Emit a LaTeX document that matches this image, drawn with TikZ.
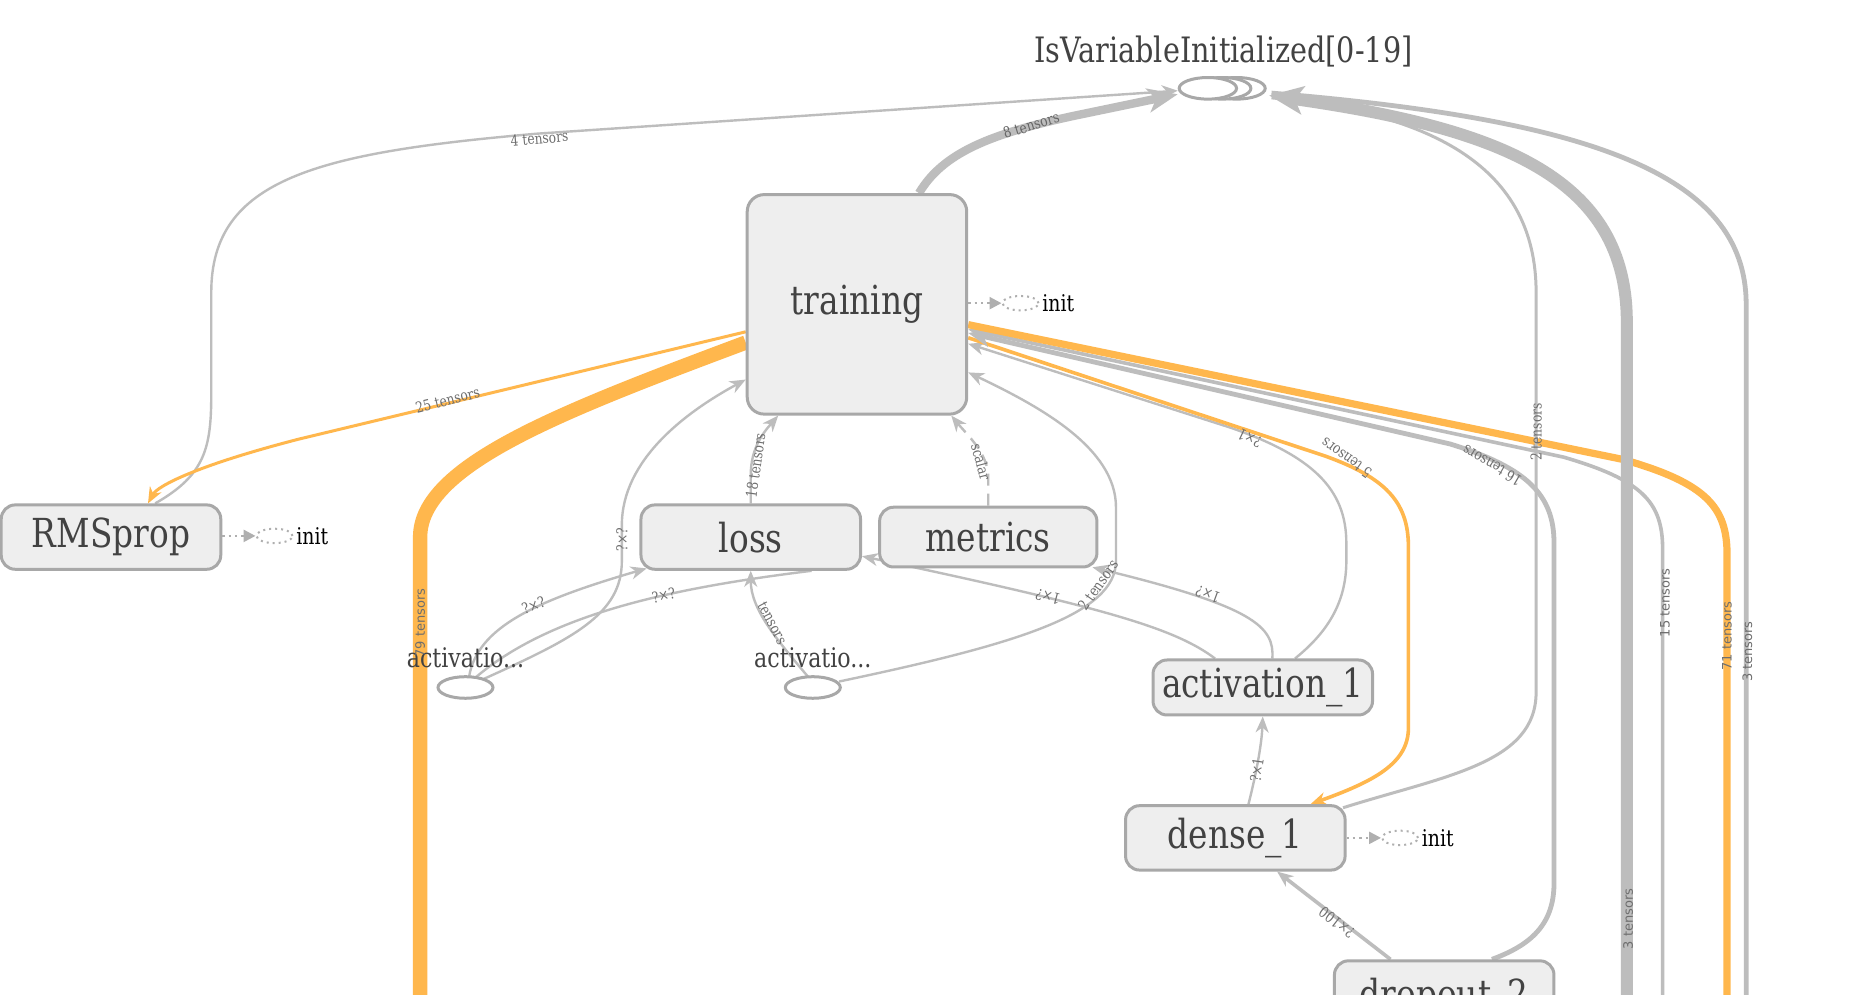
\documentclass[tikz,border=0pt]{standalone}
\usepackage{fontspec}
\setmainfont{DejaVu Serif}[FakeStretch=0.82]
\newfontfamily\labsans{DejaVu Sans}
\usetikzlibrary{arrows.meta,shapes.geometric,calc}
\definecolor{edgegray}{HTML}{BDBDBD}
\definecolor{edgeor}{HTML}{FFB74D}
\definecolor{boxfill}{HTML}{EEEEEE}
\definecolor{boxline}{HTML}{A8A8A8}
\definecolor{boxtext}{HTML}{424242}
\definecolor{labtext}{HTML}{6E6E6E}
\definecolor{initline}{HTML}{AFAFAF}
\pgfdeclarelayer{bg}\pgfsetlayers{bg,main}
\begin{document}
\begin{tikzpicture}[x=0.597pt,y=-0.597pt,
  box/.style={draw=boxline, fill=boxfill, line width=1.5pt, rounded corners=7pt, text=boxtext,
    font=\fontsize{20}{24}\selectfont, minimum width=109.8pt, minimum height=32.2pt, inner sep=0pt},
  ivell/.style={ellipse, draw=boxline, fill=white, line width=1.5pt, minimum width=28.7pt, minimum height=10.8pt, inner sep=0pt},
  initell/.style={ellipse, draw=initline, dotted, line width=1pt, minimum width=18pt, minimum height=7.2pt, inner sep=0pt},
  initlab/.style={anchor=west, font=\fontsize{11.5}{13}\selectfont, text=black, inner sep=0pt},
  initarr/.style={draw=initline, dotted, line width=1.2pt, -{Triangle[length=6pt,width=6pt]}},
  ge/.style={draw=edgegray, line width=1.2pt},
  oe/.style={draw=edgeor, line width=1.5pt},
  arrhead/.style={-{Stealth[length=8pt,width=6.5pt,inset=2.5pt]}},
  rarrhead/.style={{Stealth[length=8pt,width=6.5pt,inset=2.5pt]}-},
  bigarr/.style={-{Stealth[length=15pt,width=12pt,inset=4pt]}},
  rmidarr/.style={{Stealth[length=11pt,width=9pt,inset=3pt]}-},
  hugearr/.style={{Stealth[length=17pt,width=14pt,inset=4pt]}-},
  lab/.style={font=\fontsize{7.5}{8}\selectfont, text=labtext, inner sep=0pt},
  slab/.style={font=\labsans\fontsize{6.5}{7}\selectfont, text=labtext, inner sep=0pt},
  title/.style={text=boxtext, inner sep=0pt}
]
\useasboundingbox (0,0) rectangle (1550,833);
\clip (0,0) rectangle (1550,833);

% ---------------- nodes
\node[box, minimum height=109.8pt, rounded corners=8.5pt] (training) at (718,255) {training};
\node[box] (rms) at (93,450) {RMSprop};
\node[box] (loss) at (629,450) {loss};
\node[box, minimum width=108.7pt, minimum height=29.9pt] (metrics) at (828,450) {metrics};
\node[box, minimum height=27.5pt] (act1) at (1058,576) {activation\_1};
\node[box] (dense) at (1035,702) {dense\_1};
\node[box, minimum height=37pt] (drop) at (1210,836) {dropout\_2};

\node[ivell] (iv3) at (1036,74) {};
\node[ivell] (iv2) at (1024,74) {};
\node[ivell] (iv1) at (1012,74) {};
\node[title, font=\fontsize{17.5}{20}\selectfont] (ivlab) at (1025,43) {IsVariableInitialized[0-19]};

\node[ivell, minimum width=27.5pt] (a1) at (390,576) {};
\node[ivell, minimum width=27.5pt] (a2) at (681,576) {};
\node[title, font=\fontsize{13.5}{16}\selectfont] (a1lab) at (390,551) {activatio...};
\node[title, font=\fontsize{13.5}{16}\selectfont] (a2lab) at (681,551) {activatio...};

\node[initell] (tinit) at (855,254) {};
\node[initlab] (tinitlab) at (873,254) {init};
\node[initell] (rinit) at (230,449) {};
\node[initlab] (rinitlab) at (248,449) {init};
\node[initell] (dinit) at (1173,702) {};
\node[initlab] (dinitlab) at (1191,702) {init};

\draw[initarr] (training.east |- tinit) -- (tinit.west);
\draw[initarr] (rms.east |- rinit) -- (rinit.west);
\draw[initarr] (dense.east |- dinit) -- (dinit.west);

% ---------------- edges
\begin{pgfonlayer}{bg}
\fill[white] (0,0) rectangle (1550,833);
% 4 tensors
\draw[ge, arrhead] ($(rms.north)+(37,0)$) .. controls (172,398) and (177,375) .. (177,330) -- (177,245)
   .. controls (177,150) and (265,128) .. (450,112) -- ($(iv1.west)+(0,2)$);
% 8 tensors
\draw[ge, line width=4.2pt, bigarr] ($(training.north)+(52,0)$) .. controls (790,128) and (830,112) .. (900,97) -- ($(iv1.west)+(0,5)$);
% 25 tensors
\draw[oe, arrhead] ($(training.west)+(0,23)$) -- (250,368) .. controls (165,390) and (132,407) .. ($(rms.north)+(31,0)$);
% 79 tensors
\draw[oe, line width=7.2pt] ($(training.west)+(0,32)$) .. controls (470,345) and (352,390) .. (352,450) -- (352,860);
% 18 tensors
\draw[ge, arrhead] (loss.north) -- (629,398) .. controls (629,375) and (640,362) .. ($(training.south)+(-66,0)$);
% scalar
\draw[ge, dash pattern=on 6pt off 4pt, arrhead] (metrics.north) -- (828,400) .. controls (828,380) and (810,364) .. ($(training.south)+(79,0)$);
% activatio (left) -> training
\draw[ge, arrhead] ($(a1)+(15,-7)$) .. controls (480,535) and (521,515) .. (521,470) -- (521,440)
   .. controls (521,385) and (575,345) .. ($(training.west)+(0,63)$);
% activatio (left) -> loss
\draw[ge, arrhead] ($(a1)+(3,-9)$) .. controls (400,525) and (450,503) .. ($(loss.south west)+(6,-2)$);
\draw[ge] ($(a1)+(8,-8)$) .. controls (460,515) and (560,493) .. ($(loss.south)+(51,0)$);
% activatio (middle) -> loss
\draw[ge, arrhead] ($(a2)+(-4,-9)$) .. controls (650,535) and (629,510) .. (loss.south);
% activatio (middle) -> training
\draw[ge, arrhead] ($(a2)+(22,-5)$) .. controls (850,540) and (935,515) .. (935,470) -- (935,425)
   .. controls (935,375) and (870,340) .. ($(training.east)+(0,57)$);
% activation_1 -> loss, metrics, training
\draw[ge, arrhead] ($(act1.north)+(-40,0)$) .. controls (985,527) and (930,510) .. ($(loss.east)+(0,16)$);
\draw[ge, arrhead] ($(act1.north)+(8,0)$) .. controls (1068,525) and (1050,508) .. ($(metrics.south east)+(-5,-1)$);
\draw[ge, rarrhead] ($(training.east)+(0,33)$) -- (1030,358) .. controls (1100,382) and (1128,410) .. (1128,455) -- (1128,470)
   .. controls (1128,505) and (1112,530) .. ($(act1.north)+(27,0)$);
% 5 tensors
\draw[oe, line width=1.8pt, arrhead] ($(training.east)+(0,28)$) -- (1110,382) .. controls (1160,400) and (1180,420) .. (1180,458) -- (1180,610)
   .. controls (1180,640) and (1150,655) .. ($(dense.north)+(63,0)$);
% 16 tensors
\draw[ge, line width=2.4pt, rmidarr] ($(training.east)+(0,24)$) -- (1215,372) .. controls (1280,392) and (1302,415) .. (1302,455) -- (1302,740)
   .. controls (1302,775) and (1282,792) .. ($(drop.north)+(40,0)$);
% 15 tensors
\draw[ge, line width=1.8pt, rarrhead] ($(training.east)+(0,21)$) -- (1310,383) .. controls (1375,402) and (1393,420) .. (1393,460) -- (1393,860);
% 71 tensors
\draw[oe, line width=3.6pt] ($(training.east)+(0,17)$) -- (1360,385) .. controls (1430,405) and (1447,425) .. (1447,465) -- (1447,860);
% 3 tensors (thick)
\draw[ge, line width=6pt, hugearr] ($(iv3.east)+(2,6)$) .. controls (1260,108) and (1363,150) .. (1363,270) -- (1363,860);
% 3 tensors (right)
\draw[ge, line width=2.4pt] ($(iv3.east)+(4,4)$) .. controls (1330,100) and (1463,145) .. (1463,255) -- (1463,860);
% 2 tensors dense_1 -> IsVariableInitialized
\draw[ge, line width=1.5pt] ($(dense.north east)+(-3,3)$) .. controls (1210,650) and (1287,640) .. (1287,580) -- (1287,245)
   .. controls (1287,140) and (1200,95) .. ($(iv3.east)+(4,8)$);
% dense_1 -> activation_1
\draw[ge, arrhead] ($(dense.north)+(11,0)$) .. controls (1052,650) and (1057,625) .. (act1.south);
% dropout_2 -> dense_1
\draw[ge, line width=1.8pt, arrhead] ($(drop.north)+(-45,0)$) -- ($(dense.south)+(35,0)$);
% into dropout_2
\coordinate (dropin) at (1000,855);
\draw[ge, line width=1.8pt, arrhead] (dropin) -- ($(drop.west)+(0,2)$);
\end{pgfonlayer}

% ---------------- edge labels
\node[lab, rotate=5] (l1) at (452,116) {4 tensors};
\node[lab, rotate=17, text=black!60] (l2) at (864,105) {8 tensors};
\node[lab, rotate=14] (l3) at (375,335) {25 tensors};
\node[slab, rotate=90] (l4) at (352,522) {79 tensors};
\node[lab, rotate=82] (l5) at (633,390) {18 tensors};
\node[lab, rotate=-75] (l6) at (822,387) {scalar};
\node[lab, rotate=90] (l7) at (521,452) {?×?};
\node[lab, rotate=22] (l8) at (447,507) {?×?};
\node[lab, rotate=12] (l9) at (556,499) {?×?};
\node[lab, rotate=-62] (l10) at (647,522) {tensors};
\node[lab, rotate=55] (l11) at (920,490) {2 tensors};
\node[lab, rotate=165] (l12) at (878,500) {1×?};
\node[lab, rotate=160] (l13) at (1012,498) {1×?};
\node[lab, rotate=155] (l14) at (1047,367) {?×1};
\node[lab, rotate=145] (l15) at (1128,384) {5 tensors};
\node[lab, rotate=150] (l16) at (1250,390) {16 tensors};
\node[slab, rotate=90] (l17) at (1395,505) {15 tensors};
\node[slab, rotate=90] (l18) at (1447,533) {71 tensors};
\node[slab, rotate=90] (l19) at (1464,546) {3 tensors};
\node[slab, rotate=90] (l20) at (1364,770) {3 tensors};
\node[lab, rotate=90] (l21) at (1287,362) {2 tensors};
\node[lab, rotate=82] (l22) at (1053,645) {?×1};
\node[lab, rotate=142] (l23) at (1120,773) {?×100};
\end{tikzpicture}
\end{document}
